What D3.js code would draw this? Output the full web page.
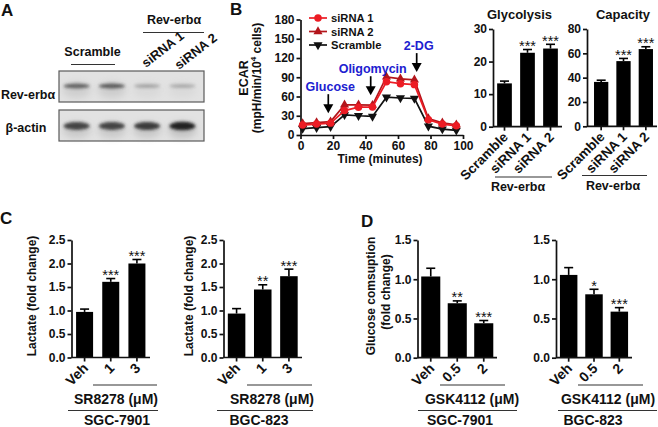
<!DOCTYPE html>
<html><head><meta charset="utf-8">
<script src="https://cdn.jsdelivr.net/npm/d3@7"></script>
<style>
body{margin:0;background:#fff}
svg text{font-family:"Liberation Sans",Arial,sans-serif;font-weight:bold;fill:#111}
</style></head><body>
<svg id="fig" width="658" height="427"></svg>
<script>
// ================= DATA =================
// Panel A – western blot (relative band intensity per lane)
const blotLanes = ["Scramble a", "Scramble b", "siRNA 1", "siRNA 2"];
const revErbaBand = [0.62, 0.66, 0.28, 0.25];
const actinBand = [0.8, 0.8, 0.85, 1.0];

// Panel B – ECAR time course
const ecarTime = [1.3, 9.9, 18.5, 27.1, 35.7, 44.3, 52.9, 61.5, 70.1, 78.7, 87.3, 95.9];
const ecarSiRNA1 = [15.5, 17, 18.5, 38, 43.3, 43.5, 83, 80, 78.5, 23.8, 17, 14.3];
const ecarSiRNA2 = [17.8, 19.4, 20.8, 47, 47, 46.5, 90.5, 87.5, 86, 25.5, 19, 16];
const ecarScramble = [10, 11.5, 13, 31.5, 30, 29, 59, 57.7, 57, 13.8, 9.3, 7.3];
const ecarXTicks = [0, 20, 40, 60, 80, 100];
const ecarYTicks = [0, 30, 60, 90, 120, 150, 180];
const injectionNames = ["Glucose", "Oligomycin", "2-DG"];
const injectionTimes = [17.1, 43.2, 71.5];
const injectionTipValues = [34, 62, 98];

// Panel B – bar charts
const knockdownCats = ["Scramble", "siRNA 1", "siRNA 2"];
const glycolysisVals = [13.3, 22.7, 24.0];
const glycolysisErr = [0.7, 1.0, 1.3];
const glycolysisStars = ["", "***", "***"];
const glycolysisTicks = [0, 10, 20, 30];
const capacityVals = [36.5, 53.6, 63.5];
const capacityErr = [1.4, 2.2, 1.9];
const capacityStars = ["", "***", "***"];
const capacityTicks = [0, 20, 40, 60, 80];

// Panel C – lactate
const srCats = ["Veh", "1", "3"];
const lactateSGC = [0.97, 1.61, 2.0];
const lactateSGCErr = [0.06, 0.07, 0.085];
const lactateSGCStars = ["", "***", "***"];
const lactateBGC = [0.935, 1.447, 1.73];
const lactateBGCErr = [0.105, 0.1, 0.15];
const lactateBGCStars = ["", "**", "***"];
const lactateTicks = [0, 0.5, 1.0, 1.5, 2.0, 2.5];

// Panel D – glucose consumption
const gskCats = ["Veh", "0.5", "2"];
const glucoseSGC = [1.035, 0.694, 0.439];
const glucoseSGCErr = [0.105, 0.03, 0.035];
const glucoseSGCStars = ["", "**", "***"];
const glucoseBGC = [1.055, 0.808, 0.587];
const glucoseBGCErr = [0.093, 0.064, 0.051];
const glucoseBGCStars = ["", "*", "***"];
const glucoseTicks = [0, 0.5, 1.0, 1.5];

// ================= DRAWING =================
const svg = d3.select("#fig");
const FONT = "'Liberation Sans', Arial, sans-serif";

function styleAxis(g) {
  g.attr("font-family", FONT).attr("font-size", 12).attr("font-weight", "bold");
  g.selectAll("path.domain").attr("stroke", "#111").attr("stroke-width", 1.7);
  g.selectAll(".tick line").attr("stroke", "#111").attr("stroke-width", 1.7);
  g.selectAll(".tick text").attr("fill", "#111");
}

function label(x, y, txt, opts = {}) {
  const t = svg.append("text").attr("x", x).attr("y", y)
    .attr("font-size", opts.size || 12)
    .attr("text-anchor", opts.anchor || "middle")
    .text(txt);
  if (opts.fill) t.style("fill", opts.fill);
  return t;
}
function rlabel(x, y, txt, size = 12) {
  return svg.append("text").attr("transform", `translate(${x},${y}) rotate(-90)`)
    .attr("text-anchor", "middle").attr("font-size", size).text(txt);
}
function hline(x1, x2, y, w = 1.2) {
  svg.append("line").attr("x1", x1).attr("x2", x2).attr("y1", y).attr("y2", y)
    .attr("stroke", "#333").attr("stroke-width", w);
}

// ---------- Panel letters ----------
label(1, 16, "A", { size: 17, anchor: "start" });
label(230, 15, "B", { size: 17, anchor: "start" });
label(0, 224, "C", { size: 17, anchor: "start" });
label(361, 227, "D", { size: 17, anchor: "start" });

// ---------- Panel A: blot ----------
(function () {
  const defs = svg.append("defs");
  defs.append("filter").attr("id", "blur").attr("x", "-50%").attr("y", "-100%")
    .attr("width", "200%").attr("height", "300%")
    .append("feGaussianBlur").attr("stdDeviation", 1.6);
  defs.append("filter").attr("id", "blur2").attr("x", "-50%").attr("y", "-100%")
    .attr("width", "200%").attr("height", "300%")
    .append("feGaussianBlur").attr("stdDeviation", 3.5);
  const lane = d3.scaleBand().domain(d3.range(blotLanes.length)).range([59, 200]);
  const boxes = [{ y: 71, h: 31, band: revErbaBand, by: 86, bh: 2.6 },
                 { y: 110, h: 31, band: actinBand, by: 126, bh: 3.6 }];
  boxes.forEach(b => {
    svg.append("rect").attr("x", 59).attr("y", b.y).attr("width", 145).attr("height", b.h)
      .attr("fill", "#e2e2e2").attr("stroke", "#5a5a5a").attr("stroke-width", 1.2);
    const g = svg.append("g");
    g.selectAll("ellipse.s").data(b.band).join("ellipse")
      .attr("cx", (d, i) => lane(i) + lane.bandwidth() / 2)
      .attr("cy", b.by + 4).attr("rx", 14).attr("ry", 8)
      .attr("fill", "#888").attr("opacity", d => d * 0.35).attr("filter", "url(#blur2)");
    g.selectAll("ellipse.b").data(b.band).join("ellipse")
      .attr("cx", (d, i) => lane(i) + lane.bandwidth() / 2)
      .attr("cy", b.by).attr("rx", 13).attr("ry", d => b.bh * (0.6 + d * 0.6))
      .attr("fill", "#222").attr("opacity", d => d).attr("filter", "url(#blur)");
  });
  label(92.5, 56, "Scramble", { size: 12.5 });
  hline(71, 115, 64.5);
  label(174, 24, "Rev-erbα", { size: 12.5 });
  hline(143, 204, 32.5);
  svg.append("text").attr("transform", "translate(146,68) rotate(-38)").attr("font-size", 13).text("siRNA 1");
  svg.append("text").attr("transform", "translate(179,70) rotate(-38)").attr("font-size", 13).text("siRNA 2");
  label(28, 99, "Rev-erbα", { size: 12.5 });
  label(26, 132, "β-actin", { size: 12.5 });
})();

// ---------- Panel B: ECAR line chart ----------
(function () {
  const x = d3.scaleLinear().domain([0, 100]).range([300.5, 463]);
  const y = d3.scaleLinear().domain([0, 180]).range([135, 19.5]);
  const ga = svg.append("g").attr("transform", "translate(300.5,0)")
    .call(d3.axisLeft(y).tickValues(ecarYTicks).tickSize(4).tickSizeOuter(0).tickPadding(2));
  styleAxis(ga);
  const gb = svg.append("g").attr("transform", "translate(0,135)")
    .call(d3.axisBottom(x).tickValues(ecarXTicks).tickSize(4).tickSizeOuter(0).tickPadding(2));
  styleAxis(gb);

  const series = [
    { name: "Scramble", vals: ecarScramble, color: "#111", sym: "down" },
    { name: "siRNA 2", vals: ecarSiRNA2, color: "#b3151b", sym: "up" },
    { name: "siRNA 1", vals: ecarSiRNA1, color: "#ec1c24", sym: "circle" }
  ];
  const line = d3.line().x((d, i) => x(ecarTime[i])).y(d => y(d));
  const symOf = s => s === "circle" ? d3.symbol(d3.symbolCircle, 44) : d3.symbol(d3.symbolTriangle, 36);
  series.forEach(s => {
    svg.append("path").datum(s.vals).attr("d", line).attr("fill", "none")
      .attr("stroke", s.color).attr("stroke-width", 1.7);
    svg.selectAll(null).data(s.vals).join("path")
      .attr("d", symOf(s.sym)())
      .attr("transform", (d, i) => `translate(${x(ecarTime[i])},${y(d)})${s.sym === "down" ? " rotate(180)" : ""}`)
      .attr("fill", s.color);
  });
  const legendOrder = [series[2], series[1], series[0]];
  legendOrder.forEach((s, i) => {
    const ly = 18 + i * 13.5;
    svg.append("line").attr("x1", 309).attr("x2", 327).attr("y1", ly).attr("y2", ly)
      .attr("stroke", s.color).attr("stroke-width", 1.7);
    svg.append("path").attr("d", symOf(s.sym)())
      .attr("transform", `translate(318,${ly})${s.sym === "down" ? " rotate(180)" : ""}`)
      .attr("fill", s.color);
    label(331, ly + 4, s.name, { anchor: "start", size: 11.2 });
  });
  injectionNames.forEach((n, i) => {
    const ax = x(injectionTimes[i]);
    const tip = y(injectionTipValues[i]);
    const top = tip - 19;
    svg.append("line").attr("x1", ax).attr("x2", ax).attr("y1", top).attr("y2", tip - 7)
      .attr("stroke", "#000").attr("stroke-width", 1.7);
    svg.append("path").attr("d", `M${ax - 5},${tip - 9}L${ax + 5},${tip - 9}L${ax},${tip}Z`).attr("fill", "#000");
    label(ax + 2, top - 3, n, { size: 12.5, fill: "#2020d0" });
  });
  svg.append("text").attr("transform", "translate(247.5,78) rotate(-90)")
    .attr("text-anchor", "middle").attr("font-size", 12.5).text("ECAR");
  const t2 = svg.append("text").attr("transform", "translate(261,78) rotate(-90)")
    .attr("text-anchor", "middle").attr("font-size", 12);
  t2.append("tspan").text("(mpH/min/10");
  t2.append("tspan").attr("font-size", 8).attr("dy", -5).text("4");
  t2.append("tspan").attr("dy", 5).text(" cells)");
  label(380, 163, "Time (minutes)", { size: 12 });
})();

// ---------- Generic bar chart ----------
function barChart(cfg, cats, vals, errs, stars) {
  const x = d3.scaleBand().domain(cats).range(cfg.band).paddingInner(cfg.pad).paddingOuter(cfg.pad / 2);
  const y = d3.scaleLinear().domain([0, cfg.max]).range([cfg.y0, cfg.y1]);
  const bw = x.bandwidth();
  const g = svg.append("g");
  g.selectAll("rect").data(vals).join("rect")
    .attr("x", (d, i) => x(cats[i])).attr("width", bw)
    .attr("y", d => y(d)).attr("height", d => cfg.y0 - y(d)).attr("fill", "#000");
  g.selectAll("line.err").data(vals).join("line")
    .attr("x1", (d, i) => x(cats[i]) + bw / 2).attr("x2", (d, i) => x(cats[i]) + bw / 2)
    .attr("y1", d => y(d)).attr("y2", (d, i) => y(d + errs[i]))
    .attr("stroke", "#000").attr("stroke-width", 1.6);
  g.selectAll("line.cap").data(vals).join("line")
    .attr("x1", (d, i) => x(cats[i]) + bw / 2 - 4.5).attr("x2", (d, i) => x(cats[i]) + bw / 2 + 4.5)
    .attr("y1", (d, i) => y(d + errs[i])).attr("y2", (d, i) => y(d + errs[i]))
    .attr("stroke", "#000").attr("stroke-width", 1.6);
  g.selectAll("text.star").data(stars).join("text")
    .attr("x", (d, i) => x(cats[i]) + bw / 2)
    .attr("y", (d, i) => y(vals[i] + errs[i]) - 7 + 8.5)
    .attr("text-anchor", "middle").attr("font-size", 14.5).style("font-weight", "normal")
    .text(d => d);
  const ya = svg.append("g").attr("transform", `translate(${cfg.ax},0)`)
    .call(d3.axisLeft(y).tickValues(cfg.ticks).tickSize(4).tickSizeOuter(0).tickPadding(2)
      .tickFormat(cfg.fmt || d3.format("d")));
  styleAxis(ya);
  const xa = svg.append("g").attr("transform", `translate(0,${cfg.y0})`)
    .call(d3.axisBottom(x).tickSize(4).tickSizeOuter(0).tickFormat(""));
  styleAxis(xa);
  xa.select("path.domain").attr("d", `M${cfg.ax},0H${cfg.band[1]}`);
  cats.forEach(c => {
    svg.append("text").attr("transform", `translate(${x(c) + bw / 2 + 1},${cfg.y0 + 8}) rotate(-45)`)
      .attr("text-anchor", "end").attr("dy", "0.35em").attr("font-size", cfg.catSize || 14).text(c);
  });
  return x;
}

// Panel B bars
barChart({ ax: 493, band: [493, 562], pad: 0.36, y0: 126.7, y1: 29, max: 30, ticks: glycolysisTicks, catSize: 13.5 },
  knockdownCats, glycolysisVals, glycolysisErr, glycolysisStars);
label(519.5, 19, "Glycolysis", { size: 13 });
hline(495, 552, 177);
label(518, 191, "Rev-erbα", { size: 12.5 });

barChart({ ax: 587, band: [590, 657], pad: 0.36, y0: 126.3, y1: 29, max: 80, ticks: capacityTicks, catSize: 13.5 },
  knockdownCats, capacityVals, capacityErr, capacityStars);
label(623, 19, "Capacity", { size: 13 });
hline(582, 647, 175.5);
label(613, 189.5, "Rev-erbα", { size: 12.5 });

// Panel C
const f1 = d3.format(".1f");
barChart({ ax: 71.5, band: [71.5, 150], pad: 0.35, y0: 357.5, y1: 240, max: 2.5, ticks: lactateTicks, fmt: f1 },
  srCats, lactateSGC, lactateSGCErr, lactateSGCStars);
rlabel(36, 296, "Lactate (fold change)");
hline(93, 157, 385); label(116, 404, "SR8278 (μM)", { size: 14 });
hline(68, 158, 410.5); label(117, 425, "SGC-7901", { size: 14 });

barChart({ ax: 223.5, band: [223.5, 302], pad: 0.33, y0: 357.5, y1: 240, max: 2.5, ticks: lactateTicks, fmt: f1 },
  srCats, lactateBGC, lactateBGCErr, lactateBGCStars);
rlabel(192.5, 296, "Lactate (fold change)");
hline(247, 312, 385); label(272, 404, "SR8278 (μM)", { size: 14 });
hline(217, 313, 410.5); label(259, 425, "BGC-823", { size: 14 });

// Panel D
barChart({ ax: 417.5, band: [417.5, 497], pad: 0.28, y0: 357.7, y1: 240, max: 1.5, ticks: glucoseTicks, fmt: f1 },
  gskCats, glucoseSGC, glucoseSGCErr, glucoseSGCStars);
rlabel(374.5, 296, "Glucose comsuption");
rlabel(390, 292, "(fold change)");
hline(440, 505, 385); label(472, 404, "GSK4112 (μM)", { size: 14 });
hline(418, 517, 410.5); label(460, 425, "SGC-7901", { size: 14 });

barChart({ ax: 556, band: [556, 632], pad: 0.31, y0: 357.7, y1: 240, max: 1.5, ticks: glucoseTicks, fmt: f1 },
  gskCats, glucoseBGC, glucoseBGCErr, glucoseBGCStars);
hline(578, 643, 385); label(608, 404, "GSK4112 (μM)", { size: 14 });
hline(558, 657, 410.5); label(593, 425, "BGC-823", { size: 14 });
</script>
</body></html>
